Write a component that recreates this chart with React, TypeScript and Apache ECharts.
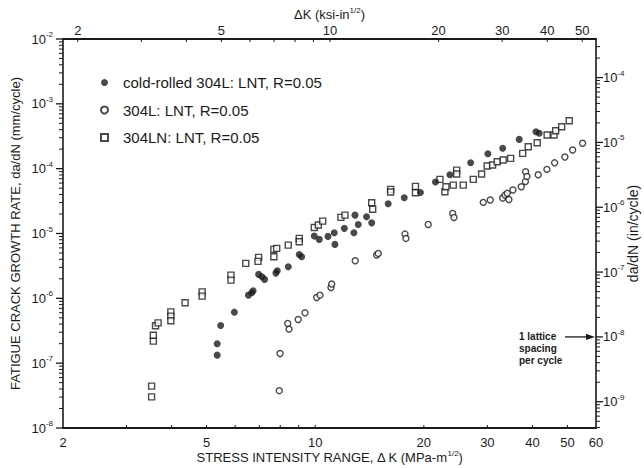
import React, { useEffect, useRef } from "react";
import * as echarts from "echarts";

// ---- data (ΔK in MPa·m^1/2, da/dN in mm/cycle) ----
const seriesNames = [
  "cold-rolled 304L: LNT, R=0.05",
  "304L: LNT, R=0.05",
  "304LN: LNT, R=0.05",
];

const coldRolledK = [5.35, 5.35, 5.47, 5.97, 6.53, 6.67, 6.73, 6.97, 7.12, 7.24, 7.78, 7.85, 8.42, 9.03, 9.17, 9.94, 10.26, 10.85, 11.29, 11.34, 12.04, 12.8, 12.89, 13.16, 13.88, 14.34, 15.93, 17.65, 19.57, 21.54, 23.62, 26.96, 30.1, 33.08, 36.76, 40.9, 41.77];
const coldRolledRate = [1.33e-7, 1.99e-7, 3.82e-7, 6.12e-7, 1.12e-6, 1.22e-6, 1.31e-6, 2.34e-6, 2.15e-6, 1.96e-6, 2.45e-6, 2.66e-6, 3.06e-6, 4.75e-6, 4.37e-6, 9.12e-6, 8.11e-6, 9.02e-6, 1.03e-5, 6.79e-6, 1.2e-5, 1.03e-5, 1.92e-5, 1.38e-5, 1.81e-5, 1.46e-5, 2.87e-5, 3.56e-5, 4.28e-5, 6.21e-5, 8.05e-5, 1.23e-4, 1.7e-4, 2.06e-4, 2.83e-4, 3.71e-4, 3.51e-4];

const plain304LK = [7.95, 7.99, 8.39, 8.46, 8.97, 9.37, 10.09, 10.31, 11.06, 11.11, 12.91, 14.8, 14.95, 17.73, 17.84, 20.57, 24.04, 24.24, 29.22, 30.55, 33.08, 33.57, 34.05, 34.42, 35.31, 37.24, 38.24, 38.29, 38.62, 41.5, 43.86, 46.08, 49.2, 51.69, 55.08];
const plain304LRate = [3.77e-8, 1.41e-7, 4.1e-7, 3.35e-7, 4.72e-7, 5.97e-7, 1.03e-6, 1.12e-6, 1.47e-6, 1.66e-6, 3.79e-6, 4.64e-6, 4.93e-6, 9.79e-6, 8.4e-6, 1.38e-5, 2.04e-5, 1.77e-5, 3.02e-5, 3.28e-5, 3.52e-5, 3.91e-5, 4.16e-5, 3.34e-5, 4.68e-5, 5.26e-5, 6.32e-5, 8.95e-5, 7.6e-5, 8.05e-5, 9.75e-5, 1.23e-4, 1.51e-4, 1.94e-4, 2.46e-4];

const n304LNK = [3.52, 3.52, 3.56, 3.56, 3.61, 3.67, 3.98, 3.98, 3.98, 4.36, 4.86, 4.86, 5.84, 5.84, 6.42, 6.97, 6.94, 7.68, 7.68, 7.82, 8.42, 9.03, 9.03, 9.94, 10.2, 10.49, 11.78, 12.09, 14.34, 14.43, 16.18, 16.18, 18.96, 18.96, 22.16, 22.88, 23.03, 24.13, 24.66, 24.66, 25.72, 27.42, 28.92, 29.96, 31.02, 31.94, 33.19, 34.8, 37.58, 38.95, 41.24, 43.93, 45.89, 46.39, 48.19, 50.58];
const n304LNRate = [3.02e-8, 4.42e-8, 2.19e-7, 2.7e-7, 3.77e-7, 4.19e-7, 6.19e-7, 5.31e-7, 4.5e-7, 8.53e-7, 1.26e-6, 1.08e-6, 2.28e-6, 1.91e-6, 3.46e-6, 4.28e-6, 3.71e-6, 5.69e-6, 4.37e-6, 5.89e-6, 6.62e-6, 8.4e-6, 7.45e-6, 1.24e-5, 1.35e-5, 1.55e-5, 1.77e-5, 1.92e-5, 2.98e-5, 2.36e-5, 4.8e-5, 4.36e-5, 5.33e-5, 4.25e-5, 6.84e-5, 4.41e-5, 5.26e-5, 5.58e-5, 9.51e-5, 8.26e-5, 5.58e-5, 6.84e-5, 8.26e-5, 1.1e-4, 1.14e-4, 1.28e-4, 1.36e-4, 1.44e-4, 1.72e-4, 2.18e-4, 2.51e-4, 3.3e-4, 3.3e-4, 3.85e-4, 4.43e-4, 5.48e-4];

// axis ranges / tick labels
const kRange = [2, 60]; // MPa·m^1/2
const rateRange = [1e-8, 1e-2]; // mm/cycle
const bottomTickLabels = [2, 5, 10, 20, 30, 40, 50, 60];
const topTickLabels = [2, 5, 10, 20, 30, 40, 50];
const bottomMinorTicks = [3, 4, 5, 6, 7, 8, 9, 10, 20, 30, 40, 50];
const topMinorTicks = [2, 3, 4, 5, 6, 7, 8, 9, 10, 20, 30, 40, 50];
const MPA_PER_KSI = 1.0988;
const MM_PER_IN = 25.4;
const latticeRateIn = 1e-8; // in/cycle
const latticeNote = ["1 lattice", "spacing", "per cycle"];

const INK = "#1b1b1b";
const FONT = "'Liberation Sans', Arial, Helvetica, sans-serif";

function decadeLabel(v: number) {
  const e = Math.log10(v);
  const r = Math.round(e);
  if (Math.abs(e - r) > 0.02) return "";
  return `{b|10}{s|${r}}`;
}

export default function App() {
  const ref = useRef<HTMLDivElement>(null);

  useEffect(() => {
    const chart = echarts.init(ref.current!, null, { renderer: "svg" });
    const zip = (a: number[], b: number[]) => a.map((x, i) => [x, b[i]]);
    const labelRich = {
      b: { fontSize: 13, color: INK, fontFamily: FONT },
      s: { fontSize: 8, color: INK, fontFamily: FONT, padding: [0, 0, 9, 0] },
    };
    const supRich = { sup: { fontSize: 8, color: INK, fontFamily: FONT, padding: [0, 0, 8, 0] } };
    const axisLine = (w: number) => ({ show: true, lineStyle: { color: INK, width: w } });

    chart.setOption({
      animation: false,
      backgroundColor: "#ffffff",
      textStyle: { fontFamily: FONT, color: INK },
      grid: { left: 63, top: 39, width: 533, height: 389, containLabel: false, outerBoundsMode: "none" },
      legend: {
        orient: "vertical",
        left: 95,
        top: 70,
        itemWidth: 7,
        itemHeight: 7,
        itemGap: 12.5,
        selectedMode: false,
        data: seriesNames,
        textStyle: { fontSize: 15, color: INK, fontFamily: FONT, padding: [0, 0, 0, 10] },
      },
      xAxis: [
        {
          type: "log",
          position: "bottom",
          min: kRange[0],
          max: kRange[1],
          axisLine: axisLine(2),
          axisTick: { show: false },
          axisLabel: { show: false },
          splitLine: { show: false },
          name: "STRESS INTENSITY RANGE, Δ K (MPa-m{sup|1/2})",
          nameLocation: "middle",
          nameGap: 21,
          nameMoveOverlap: false,
          nameTextStyle: { fontSize: 13, color: INK, fontFamily: FONT, rich: supRich },
        },
        {
          type: "log",
          position: "top",
          min: kRange[0] / MPA_PER_KSI,
          max: kRange[1] / MPA_PER_KSI,
          axisLine: axisLine(2),
          axisTick: { show: false },
          axisLabel: { show: false },
          splitLine: { show: false },
          name: "ΔK (ksi-in{sup|1/2})",
          nameLocation: "middle",
          nameGap: 17,
          nameMoveOverlap: false,
          nameTextStyle: { fontSize: 13, color: INK, fontFamily: FONT, rich: supRich },
        },
      ],
      yAxis: [
        {
          type: "log",
          position: "left",
          min: rateRange[0],
          max: rateRange[1],
          axisLine: axisLine(1.6),
          axisTick: { show: false },
          splitLine: { show: false },
          axisLabel: {
            show: true,
            margin: 10,
            showMinLabel: true,
            showMaxLabel: true,
            formatter: decadeLabel,
            rich: labelRich,
          },
          name: "FATIGUE CRACK GROWTH RATE, da/dN (mm/cycle)",
          nameLocation: "middle",
          nameRotate: 90,
          nameGap: 41,
          nameMoveOverlap: false,
          nameTextStyle: { fontSize: 13, color: INK, fontFamily: FONT },
        },
        {
          type: "log",
          position: "right",
          min: rateRange[0] / MM_PER_IN,
          max: rateRange[1] / MM_PER_IN,
          axisLine: axisLine(1.6),
          axisTick: { show: false },
          splitLine: { show: false },
          axisLabel: {
            show: true,
            margin: 7,
            showMinLabel: false,
            showMaxLabel: false,
            formatter: decadeLabel,
            rich: labelRich,
          },
          name: "da/dN (in/cycle)",
          nameLocation: "middle",
          nameRotate: 90,
          nameGap: 30,
          nameMoveOverlap: false,
          nameTextStyle: { fontSize: 14, color: INK, fontFamily: FONT },
        },
      ],
      series: [
        {
          type: "scatter",
          name: seriesNames[2],
          data: zip(n304LNK, n304LNRate),
          symbol: "rect",
          symbolSize: 6,
          silent: true,
          itemStyle: { color: "#ffffff", borderColor: INK, borderWidth: 1.4 },
        },
        {
          type: "scatter",
          name: seriesNames[1],
          data: zip(plain304LK, plain304LRate),
          symbol: "circle",
          symbolSize: 6,
          silent: true,
          itemStyle: { color: "#ffffff", borderColor: INK, borderWidth: 1.4 },
        },
        {
          type: "scatter",
          name: seriesNames[0],
          data: zip(coldRolledK, coldRolledRate),
          symbol: "circle",
          symbolSize: 7,
          silent: true,
          itemStyle: { color: INK },
        },
      ],
    });

    const px = (i: number, v: number) => chart.convertToPixel({ xAxisIndex: i }, v) as number;
    const py = (i: number, v: number) => chart.convertToPixel({ yAxisIndex: i }, v) as number;
    const left = px(0, kRange[0]);
    const right = px(0, kRange[1]);
    const top = py(0, rateRange[1]);
    const bottom = py(0, rateRange[0]);

    const g: any[] = [];
    const tick = (x1: number, y1: number, x2: number, y2: number, w = 1) =>
      g.push({ type: "line", silent: true, shape: { x1, y1, x2, y2 }, style: { stroke: INK, lineWidth: w } });

    // left axis ticks (mm/cycle), outside
    for (let e = -8; e <= -2; e++) {
      for (let m = 1; m <= 9; m++) {
        const v = m * Math.pow(10, e);
        if (Math.log10(v) > Math.log10(rateRange[1]) + 1e-6) continue;
        const y = py(0, v);
        const len = m === 1 ? 7 : 4;
        tick(left - len, y, left, y, m === 1 ? 1.3 : 1);
      }
    }
    // right axis ticks (in/cycle), outside
    const inMin = rateRange[0] / MM_PER_IN;
    const inMax = rateRange[1] / MM_PER_IN;
    for (let e = -10; e <= -3; e++) {
      for (let m = 1; m <= 9; m++) {
        const v = m * Math.pow(10, e);
        if (v < inMin * 0.9999 || v > inMax * 1.0001) continue;
        const y = py(1, v);
        const len = m === 1 ? 7 : 4;
        tick(right, y, right + len, y, m === 1 ? 1.3 : 1);
      }
    }
    // small inside ticks on the K axes
    bottomMinorTicks.forEach((v) => {
      const x = px(0, v);
      tick(x, bottom, x, bottom - 3, 1);
    });
    topMinorTicks.forEach((v) => {
      const x = px(1, v);
      tick(x, top, x, top + 3, 1);
    });
    // tick labels
    bottomTickLabels.forEach((v) => {
      g.push({
        type: "text",
        silent: true,
        x: px(0, v),
        y: bottom + 14,
        style: { text: String(v), fontSize: 13, fontFamily: FONT, fill: INK, align: "center", verticalAlign: "middle" },
      });
    });
    topTickLabels.forEach((v) => {
      g.push({
        type: "text",
        silent: true,
        x: px(1, v),
        y: top - 9,
        style: { text: String(v), fontSize: 13, fontFamily: FONT, fill: INK, align: "center", verticalAlign: "middle" },
      });
    });
    // lattice spacing arrow
    const ya = py(1, latticeRateIn);
    g.push({
      type: "line",
      silent: true,
      shape: { x1: right - 31, y1: ya, x2: right - 8, y2: ya },
      style: { stroke: INK, lineWidth: 1.3 },
    });
    g.push({
      type: "polygon",
      silent: true,
      shape: { points: [[right - 1, ya], [right - 10, ya - 3.2], [right - 10, ya + 3.2]] },
      style: { fill: INK },
    });
    latticeNote.forEach((t, i) => {
      g.push({
        type: "text",
        silent: true,
        x: right - 77,
        y: ya + i * 12,
        style: {
          text: t,
          fontSize: 10,
          fontWeight: "bold",
          fontFamily: FONT,
          fill: INK,
          align: "left",
          textAlign: "left",
          verticalAlign: "middle",
        },
      });
    });

    chart.setOption({ graphic: g });

    return () => chart.dispose();
  }, []);

  return (
    <div
      ref={ref}
      style={{ position: "fixed", left: 0, top: 0, width: 644, height: 468, background: "#fff" }}
    />
  );
}
